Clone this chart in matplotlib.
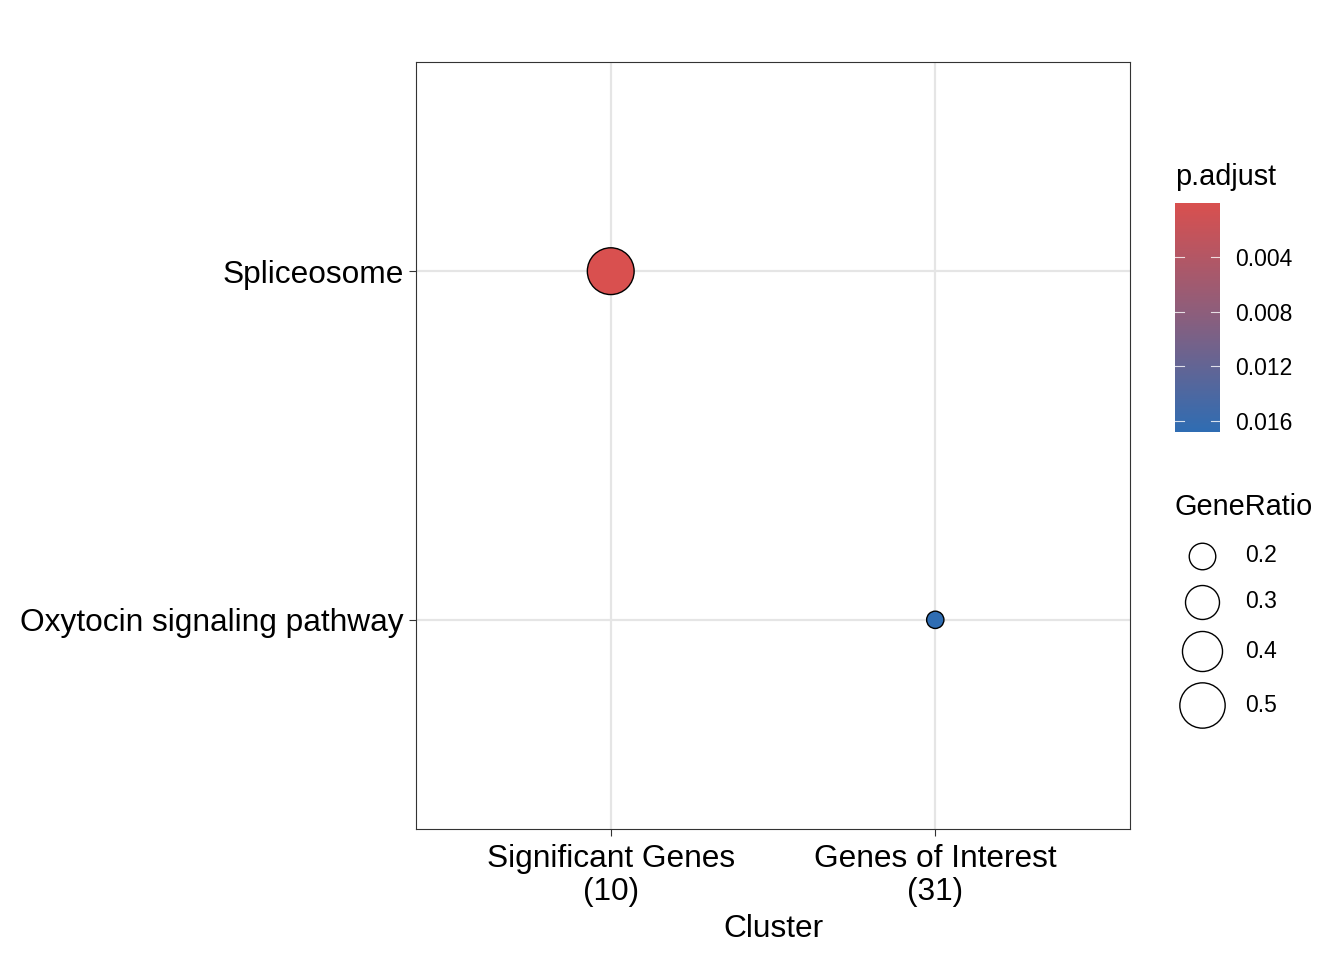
import numpy as np
import matplotlib
matplotlib.use("Agg")
import matplotlib.pyplot as plt
from matplotlib.colors import LinearSegmentedColormap, Normalize

plt.rcParams['font.family'] = ['Liberation Sans', 'DejaVu Sans']

# data
clusters = ["Significant Genes\n(10)", "Genes of Interest\n(31)"]
terms = ["Oxytocin signaling pathway", "Spliceosome"]
pt_cluster = [0, 1]
pt_term = [1, 0]
gene_ratio = [0.53, 0.11]
p_adjust = [0.00005, 0.0168]

size_breaks = [0.2, 0.3, 0.4, 0.5]
p_ticks = [0.004, 0.008, 0.012, 0.016]

low_col = "#d9504f"
high_col = "#2f6db3"
cmap = LinearSegmentedColormap.from_list("padj", [low_col, "#8a5f7e", high_col])
norm = Normalize(vmin=min(p_adjust), vmax=max(p_adjust))

DPI = 100
px = 72.0 / DPI


def size_of(r):
    # diameter^2 in px, area proportional to ratio
    d2 = -196 + 4500 * np.asarray(r)
    return d2 * px * px


fig = plt.figure(figsize=(13.44, 9.6), dpi=DPI)
ax = fig.add_axes([416 / 1344, 1 - 829 / 960, 714 / 1344, 767 / 960])

ax.set_xlim(-0.6, 1.6)
ax.set_ylim(-0.6, 1.6)
ax.set_xticks(range(len(clusters)))
ax.set_xticklabels(clusters, fontsize=22.8, linespacing=1.1)
ax.set_yticks(range(len(terms)))
ax.set_yticklabels(terms, fontsize=22.8)
ax.grid(True, color="#e5e5e5", lw=1.6)
ax.set_axisbelow(True)
for s in ax.spines.values():
    s.set_linewidth(0.8)
    s.set_color("#333333")
ax.tick_params(length=5, width=0.8, color="#333333", pad=4, labelcolor="black")
ax.tick_params(axis="x", pad=6)

ax.scatter(pt_cluster, pt_term, s=size_of(gene_ratio), c=p_adjust, cmap=cmap, norm=norm,
           edgecolors="black", linewidths=1.0, zorder=3)
ax.set_xlabel("Cluster", fontsize=22.8, labelpad=5)

# colorbar
cax = fig.add_axes([1175 / 1344, 1 - 432 / 960, 45 / 1344, 229 / 960])
grad = np.linspace(min(p_adjust), max(p_adjust), 256).reshape(-1, 1)
cax.imshow(grad, aspect="auto", cmap=cmap, norm=norm,
           extent=[0, 1, max(p_adjust), min(p_adjust)])
cax.set_ylim(max(p_adjust), min(p_adjust))
cax.set_xlim(0, 1)
for s in cax.spines.values():
    s.set_visible(False)
cax.set_xticks([])
cax.yaxis.tick_right()
cax.set_yticks(p_ticks)
cax.set_yticklabels([f"{t:.3f}" for t in p_ticks], fontsize=16.5)
cax.tick_params(axis="y", length=0, pad=11)
for t in p_ticks:
    cax.plot([0, 0.2], [t, t], color="white", lw=0.8, alpha=0.8)
    cax.plot([0.8, 1], [t, t], color="white", lw=0.8, alpha=0.8)
fig.text(1175 / 1344, 1 - 177 / 960, "p.adjust", fontsize=20.8, va="center", ha="left")

# size legend
fig.text(1175 / 1344, 1 - 507 / 960, "GeneRatio", fontsize=20.8, va="center", ha="left")
key_y = [556, 602, 651, 705]
for r, yy in zip(size_breaks, key_y):
    fig.add_artist(plt.Line2D([1202 / 1344], [1 - yy / 960], marker="o", linestyle="none",
                              markersize=np.sqrt(size_of(r)), markerfacecolor="white",
                              markeredgecolor="black", markeredgewidth=1.0,
                              transform=fig.transFigure))
    fig.text(1245 / 1344, 1 - yy / 960, f"{r:.1f}", fontsize=16.5, va="center", ha="left")

fig.savefig("out.png", dpi=DPI)
